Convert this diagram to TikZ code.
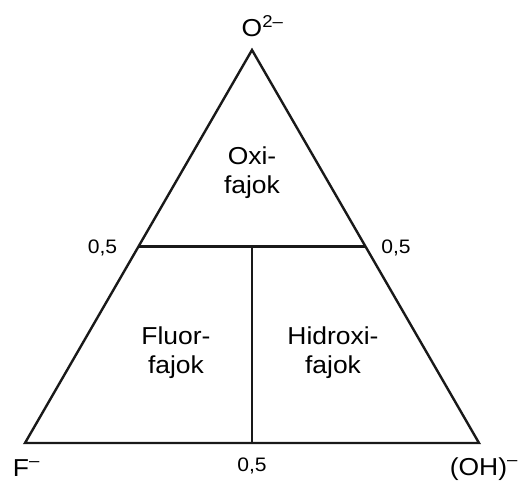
\documentclass[tikz,border=0pt]{standalone}
\usepackage{fontspec}
\setmainfont[FakeStretch=1.08]{Liberation Sans}
\usetikzlibrary{calc}
\begin{document}
\begin{tikzpicture}[x=1pt,y=-1pt,
  edge/.style={line width=2.4pt, draw=black!90},
  biglab/.style={inner sep=0pt, font=\fontsize{24.5}{29}\selectfont, align=center},
  smalllab/.style={inner sep=0pt, font=\fontsize{19.5}{22}\selectfont}]
\useasboundingbox (0,0) rectangle (524,481);
\coordinate (A) at (252,50);
\coordinate (L) at (25,443);
\coordinate (R) at (479,443);
\coordinate (ML) at ($(A)!0.5!(L)$);
\coordinate (MR) at ($(A)!0.5!(R)$);
\coordinate (MB) at ($(L)!0.5!(R)$);
\coordinate (MC) at ($(ML)!0.5!(MR)$);
\draw[edge] (A) -- (L) -- (R) -- cycle;
\draw[edge] (ML) -- (MR);
\draw[edge] (MC) -- (MB);
\node[biglab, anchor=base] (top) at (252,37) {O\rlap{\textsuperscript{2–}}};
\node[biglab, anchor=base] (fl) at (21,476) {F\rlap{\textsuperscript{–}}};
\node[biglab, anchor=base] (oh) at (478.5,475) {(OH)\rlap{\textsuperscript{–}}};
\node[smalllab, anchor=base] (h1) at (102.5,253) {0,5};
\node[smalllab, anchor=base] (h2) at (396,253) {0,5};
\node[smalllab, anchor=base] (h3) at (252,471) {0,5};
\node[biglab] (oxi) at (252,173) {Oxi-\\fajok};
\node[biglab] (fluor) at (176,353) {Fluor-\\fajok};
\node[biglab] (hid) at (333,353) {Hidroxi-\\fajok};
\end{tikzpicture}
\end{document}
